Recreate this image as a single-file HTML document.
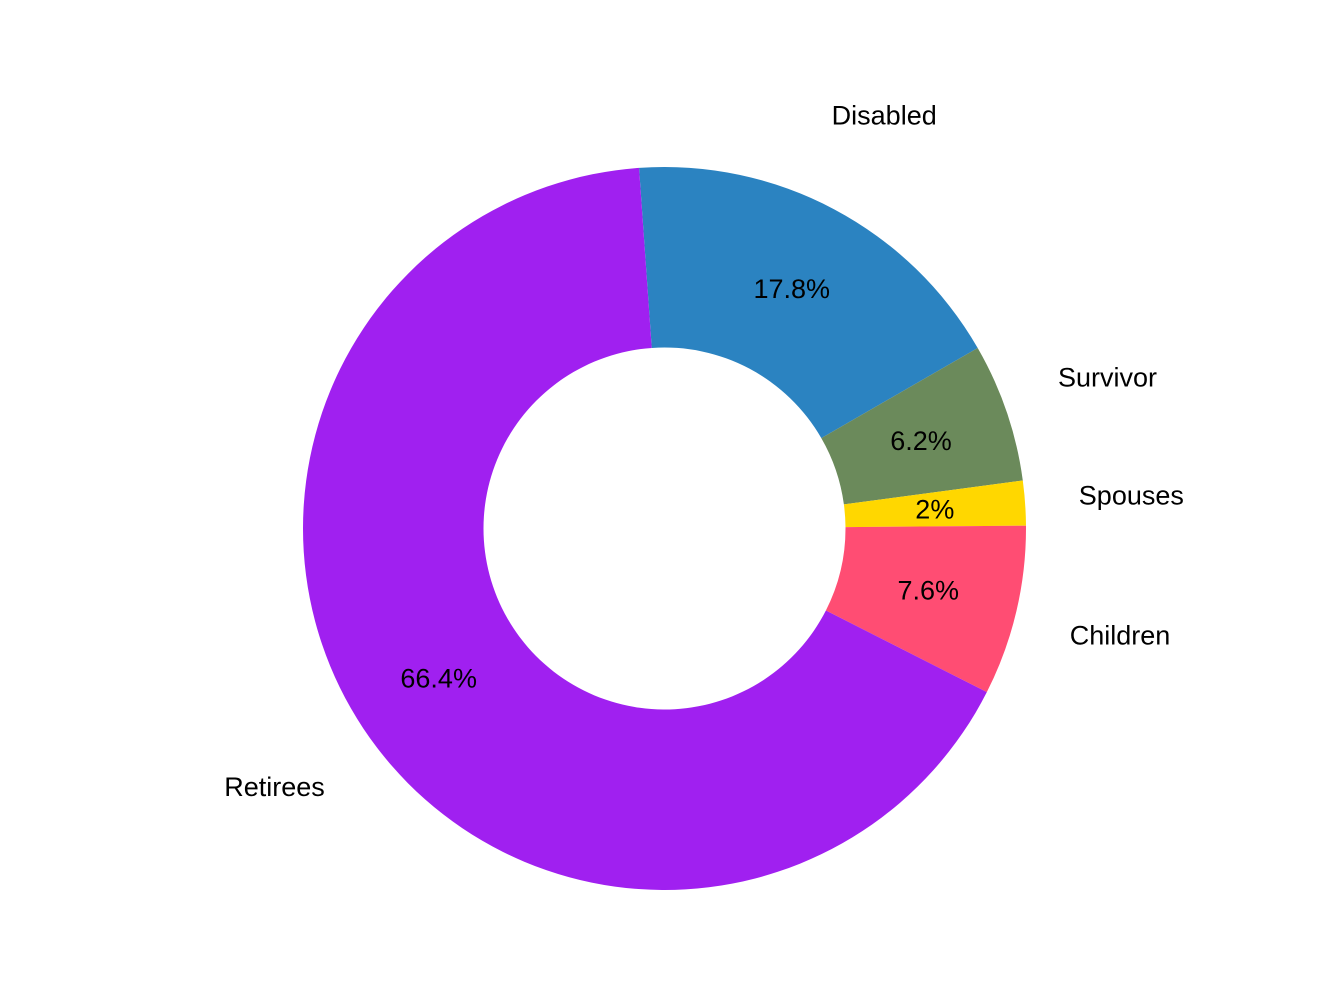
<!DOCTYPE html>
<html><head><meta charset="utf-8"><style>
html,body{margin:0;padding:0;background:#fff}
svg{display:block}
text{font-family:"Liberation Sans",Arial,sans-serif;font-size:27px;fill:#000}
</style></head><body>
<svg id="chart" width="1344" height="1008" viewBox="0 0 1344 1008"></svg>
<script>
const categories = ["Disabled","Survivor","Spouses","Children","Retirees"];
const values = [17.8,6.2,2,7.6,66.4];
const valueLabels = ["17.8%","6.2%","2%","7.6%","66.4%"];
const colors = ["#2b83c1","#6b8a5b","#ffd700","#ff4d73","#a020f0"];
const cx=664.5, cy=528.5, R=361.5, r=181, startDeg=-4.04;
const svg=document.getElementById('chart');
const NS='http://www.w3.org/2000/svg';
const total=values.reduce((a,b)=>a+b,0);
function pt(rad,deg){const a=deg*Math.PI/180;return [cx+rad*Math.sin(a),cy-rad*Math.cos(a)];}
let acc=startDeg;
values.forEach((v,i)=>{
  const sweep=v/total*360, a0=acc, a1=acc+sweep; acc=a1;
  const large=sweep>180?1:0;
  const [x0,y0]=pt(R,a0),[x1,y1]=pt(R,a1),[x2,y2]=pt(r,a1),[x3,y3]=pt(r,a0);
  const p=document.createElementNS(NS,'path');
  p.setAttribute('d',`M${x0},${y0}A${R},${R} 0 ${large} 1 ${x1},${y1}L${x2},${y2}A${r},${r} 0 ${large} 0 ${x3},${y3}Z`);
  p.setAttribute('fill',colors[i]);
  
  
  svg.appendChild(p);
  const mid=(a0+a1)/2;
  const [lx,ly]=pt(271,mid);
  const t=document.createElementNS(NS,'text');
  t.setAttribute('x',lx);t.setAttribute('y',ly+9);t.setAttribute('text-anchor','middle');
  t.textContent=valueLabels[i];
  
  
  svg.appendChild(t);
  const [ox,oy]=pt(468,mid);
  const c=document.createElementNS(NS,'text');
  c.setAttribute('x',ox);c.setAttribute('y',oy+9);c.setAttribute('text-anchor','middle');
  c.textContent=categories[i];
  
  
  svg.appendChild(c);
});
</script>
</body></html>
